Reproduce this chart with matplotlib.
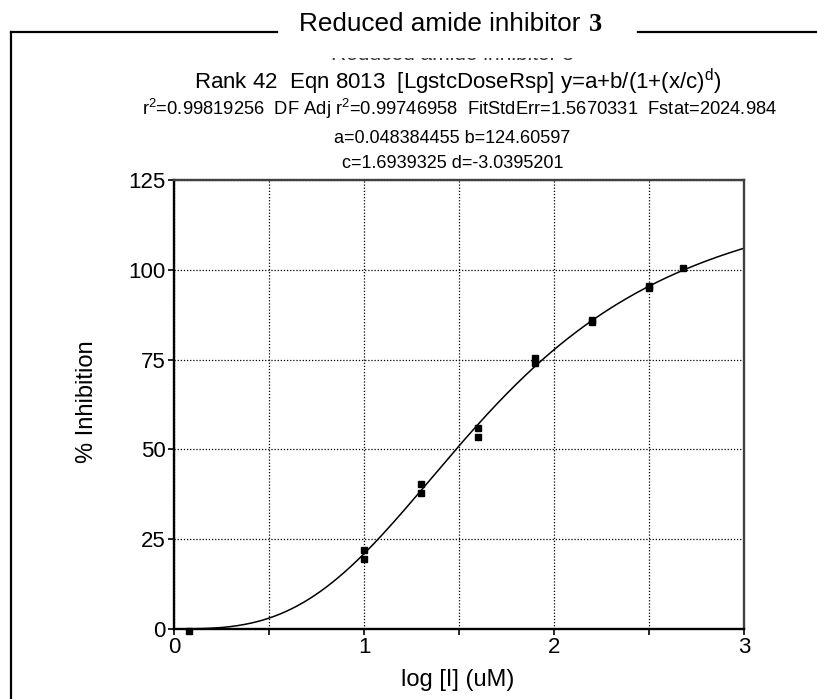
import numpy as np
import matplotlib.pyplot as plt
from matplotlib.patches import Rectangle
from matplotlib.ticker import MultipleLocator

# measured points (log conc, % inhibition)
log_conc = [0.08, 1.0, 1.0, 1.3, 1.3, 1.6, 1.6, 1.9, 1.9, 2.2, 2.2, 2.5, 2.5, 2.68]
inhibition = [-0.5, 22.0, 19.5, 40.5, 38.0, 56.0, 53.5, 75.5, 74.0, 86.0, 85.5, 95.5, 95.0, 100.5]

# fitted parameters printed on the chart
fit_a = 0.048384455
fit_b = 124.60597
fit_c = 1.6939325
fit_d = -3.0395201

x_ticks = [0, 1, 2, 3]
y_ticks = [0, 25, 50, 75, 100, 125]

plt.rcParams['font.family'] = ['Liberation Sans', 'DejaVu Sans']
plt.rcParams['mathtext.fontset'] = 'custom'
plt.rcParams['mathtext.rm'] = 'Liberation Sans'

fig = plt.figure(figsize=(8.17, 6.99), dpi=100)
W, H = 817, 699

def fx(px):
    return px / W

def fy(py):
    return 1 - py / H

ax = fig.add_axes([fx(174), fy(629), fx(744) - fx(174), fy(180) - fy(629)])

xs = np.linspace(0.001, 3, 400)
ys = fit_a + fit_b / (1 + (xs / fit_c) ** fit_d)
ax.plot(xs, ys, color='black', lw=1.1)
ax.plot(log_conc, inhibition, 's', color='black', ms=3.8, clip_on=False)

ax.set_xlim(0, 3)
ax.set_ylim(0, 125)
ax.set_xticks(x_ticks)
ax.set_yticks(y_ticks)
ax.xaxis.set_minor_locator(MultipleLocator(0.5))
ax.tick_params(which='both', direction='out', length=4, width=1.2, labelsize=16, pad=2)
ax.grid(True, which='both', axis='x', color='black', linestyle=(0, (1, 1.5)), linewidth=0.9)
ax.grid(True, which='major', axis='y', color='black', linestyle=(0, (1, 1.5)), linewidth=0.9)
for s in ['left', 'bottom']:
    ax.spines[s].set_linewidth(1.7)
for s in ['top', 'right']:
    ax.spines[s].set_linewidth(1.7)
    ax.spines[s].set_color('#404040')
ax.set_xlabel('log [I] (uM)', fontsize=17)
ax.xaxis.set_label_coords((458 - 174) / (744 - 174), -(680 - 629) / (629 - 180))
ax.xaxis.label.set_va('center')
ax.set_ylabel('% Inhibition', fontsize=17)
ax.yaxis.set_label_coords(-(174 - 87) / (744 - 174), (629 - 402) / (629 - 180))
ax.yaxis.label.set_va('center')

# outer frame with title breaking the top line
fig.add_artist(plt.Line2D([fx(11), fx(11)], [fy(32), 0], color='black', lw=1.6))
fig.add_artist(plt.Line2D([fx(11), fx(277)], [fy(32), fy(32)], color='black', lw=1.6))
fig.add_artist(plt.Line2D([fx(638), 1], [fy(32), fy(32)], color='black', lw=1.6))
fig.text(fx(588), fy(31), 'Reduced amide inhibitor ', ha='right', va='baseline', fontsize=18.8)
fig.text(fx(589), fy(31), '3', ha='left', va='baseline', fontsize=19,
         family='Liberation Serif', weight='bold')

# clipped duplicate title (only lower edge visible)
fig.text(fx(452), fy(60), 'Reduced amide inhibitor 3', ha='center', va='baseline',
         fontsize=15, color='#333333', zorder=1)
fig.add_artist(Rectangle((fx(200), fy(58)), fx(500), fy(36) - fy(58), transform=fig.transFigure,
                         facecolor='white', edgecolor='none', zorder=10))

fig.text(fx(458), fy(89), 'Rank 42  Eqn 8013  [LgstcDoseRsp] y=a+b/(1+(x/c)$^{\\mathrm{d}}$)',
         ha='center', va='baseline', fontsize=16)
fig.text(fx(460), fy(115),
         'r$^{2}$=0.99819256  DF Adj r$^{2}$=0.99746958  FitStdErr=1.5670331  Fstat=2024.984',
         ha='center', va='baseline', fontsize=13.2)
fig.text(fx(452), fy(143), 'a=0.048384455 b=124.60597', ha='center', va='baseline', fontsize=13)
fig.text(fx(453), fy(168), 'c=1.6939325 d=-3.0395201', ha='center', va='baseline', fontsize=13)

fig.savefig('out.png', dpi=100)
